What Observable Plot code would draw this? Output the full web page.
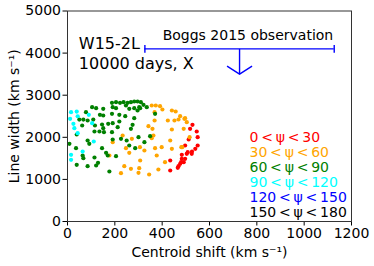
<!DOCTYPE html>
<html><head><meta charset="utf-8">
<script src="https://cdn.jsdelivr.net/npm/d3@7"></script>
<script src="https://cdn.jsdelivr.net/npm/@observablehq/plot@0.6"></script>
<style>body{margin:0;background:#fff}</style>
</head><body><div id="chart"></div>
<script>
// ---- data (centroid shift, line width) in km/s ----
const red = [[528,2296],[518,2201],[546,2138],[550,2003],[512,1948],[550,1805],[540,1726],[526,1663],[525,1608],[504,1608],[497,1805],[508,1647],[497,1489],[483,1584],[483,1489],[480,1409],[476,1370],[469,1314],[466,1275],[434,1449],[434,1211],[491,1409]];
const orange = [[356,2755],[373,2755],[391,2739],[401,2660],[368,2597],[441,2636],[457,2613],[476,2502],[497,2454],[504,2359],[424,2399],[452,2399],[469,2423],[441,2185],[434,1924],[441,1726],[485,1765],[368,2399],[342,2264],[359,2201],[363,2043],[356,1979],[370,1742],[398,1765],[377,1568],[325,1686],[307,1449],[384,1235],[345,1116],[412,1409],[300,1156],[494,2439],[491,2201],[516,2003],[481,1765],[233,2043],[272,1963],[191,1884],[247,1742],[306,1765],[177,1568],[261,1631],[240,1314],[268,1251],[226,1148],[303,1267]];
const green = [[188,2818],[205,2834],[222,2818],[237,2834],[254,2818],[268,2834],[282,2850],[296,2850],[310,2834],[191,2715],[205,2692],[247,2755],[261,2676],[282,2692],[303,2715],[104,2715],[121,2692],[151,2676],[78,2597],[67,2422],[85,2399],[109,2422],[137,2533],[151,2518],[188,2557],[219,2533],[244,2502],[282,2454],[296,2636],[219,2375],[191,2335],[172,2320],[146,2304],[116,2280],[62,2280],[50,2422],[275,2296],[268,2201],[212,2240],[114,2138],[135,2138],[151,2217],[154,2122],[188,2122],[39,2066],[8,1845],[85,1924],[92,1845],[191,1948],[226,1963],[250,1924],[261,1805],[286,1742],[300,2003],[36,1742],[64,1568],[67,1504],[114,1520],[146,1742],[163,1631],[170,1568],[205,1552],[39,1346],[85,1314],[121,1330],[177,1188],[307,2692],[321,2771],[335,2715],[370,2557],[349,2027],[325,1884],[129,1394]];
const cyan = [[15,2596],[39,2612],[11,2440],[43,2500],[25,2320],[29,2216],[90,2534],[104,2335],[43,2097],[111,1900],[64,1662],[15,1584],[15,1465]];
const blue = [];
const black = [];

const binLabels = ["0 < ψ < 30","30 < ψ < 60","60 < ψ < 90","90 < ψ < 120","120 < ψ < 150","150 < ψ < 180"];
const binColors = ["red","orange","green","cyan","blue","black"];
const pointSets = [red, orange, green, cyan, blue, black];

const xTicks = [0,200,400,600,800,1000,1200];
const yTicks = [0,1000,2000,3000,4000,5000];

// Boggs 2015 observation: centroid range and upper limit on width
const obsCenter = 727, obsHalf = 400, obsLevel = 4100, obsLimit = 3500;
const runLabel = "W15-2L\n10000 days, X";
const obsLabel = "Boggs 2015 observation";
const xLabel = "Centroid shift (km s\u207B\u00B9)";
const yLabel = "Line width (km s\u207B\u00B9)";

// ---- build ----
const points = pointSets.flatMap((pts, i) => pts.map(([x, y]) => ({x, y, bin: i})));
const legend = binLabels.map((label, i) => ({
  label: label.replace(/ /g, "\u2009"), color: binColors[i],
  x: 769, y: 1883 - i * 356
}));
const obs = [{center: obsCenter, half: obsHalf, level: obsLevel, limit: obsLimit}];
const caps = [obsCenter - obsHalf, obsCenter + obsHalf];

const capSymbol = {draw(ctx, size) { const r = Math.sqrt(size / Math.PI); ctx.moveTo(0, -r); ctx.lineTo(0, r); }};
const headSymbol = {draw(ctx, size) { const r = Math.sqrt(size / Math.PI); ctx.moveTo(-r, -0.64 * r); ctx.lineTo(0, 0); ctx.lineTo(r, -0.64 * r); }};

const font = "DejaVu Sans";
const chart = Plot.plot({
  width: 374, height: 266,
  marginLeft: 67, marginRight: 23, marginTop: 10.5, marginBottom: 45,
  style: {fontFamily: font, fontSize: "14px", color: "black", background: "white"},
  x: {domain: [0, 1200]},
  y: {domain: [0, 5000]},
  marks: [
    Plot.axisX({ticks: xTicks, tickFormat: "d", tickSize: 4.5, tickPadding: 2.5, label: null, fontSize: 14}),
    Plot.axisY({ticks: yTicks, tickFormat: "d", tickSize: 4.5, tickPadding: 2, label: null, fontSize: 14}),
    Plot.dot(points, {x: "x", y: "y", r: 2.1, fill: d => binColors[d.bin], stroke: "none"}),
    Plot.ruleY(obs, {x1: d => d.center - d.half, x2: d => d.center + d.half, y: "level", stroke: "blue", strokeWidth: 1.4}),
    Plot.dot(caps, {x: d => d, y: () => obsLevel, symbol: capSymbol, r: 3.8, stroke: "blue", strokeWidth: 1.4, fill: "none"}),
    Plot.link(obs, {x1: "center", x2: "center", y1: "level", y2: "limit", stroke: "blue", strokeWidth: 1.4}),
    Plot.dot(obs, {x: "center", y: "limit", symbol: headSymbol, r: 12.5, stroke: "blue", strokeWidth: 1.4, fill: "none"}),
    Plot.text([obsLabel], {x: 402, y: 4310, text: d => d, textAnchor: "start", lineAnchor: "bottom", fontSize: 14, fill: "black"}),
    Plot.text([runLabel], {x: 48, y: 3624, text: d => d, textAnchor: "start", lineAnchor: "bottom", lineHeight: 1.25, fontSize: 16, fill: "black"}),
    Plot.text(legend, {x: "x", y: "y", text: "label", fill: "color", textAnchor: "start", lineAnchor: "bottom", fontSize: 14, ariaLabel: "legend"}),
    Plot.text([xLabel], {frameAnchor: "bottom", dy: 35.5, text: d => d, textAnchor: "middle", lineAnchor: "bottom", fontSize: 14, fill: "black"}),
    Plot.text([yLabel], {frameAnchor: "left", dx: -49, rotate: -90, text: d => d, textAnchor: "middle", lineAnchor: "bottom", fontSize: 14, fill: "black"}),
    Plot.frame({stroke: "#333", strokeWidth: 1})
  ]
});
document.getElementById("chart").appendChild(chart);

// italic psi in legend entries
d3.select(chart).selectAll('g[aria-label="legend"] text').each(function() {
  const t = d3.select(this);
  const [a, b] = t.text().split("ψ");
  t.text(null);
  t.append("tspan").text(a);
  t.append("tspan").attr("font-style", "italic").text("ψ");
  t.append("tspan").text(b);
});
</script>
</body></html>
